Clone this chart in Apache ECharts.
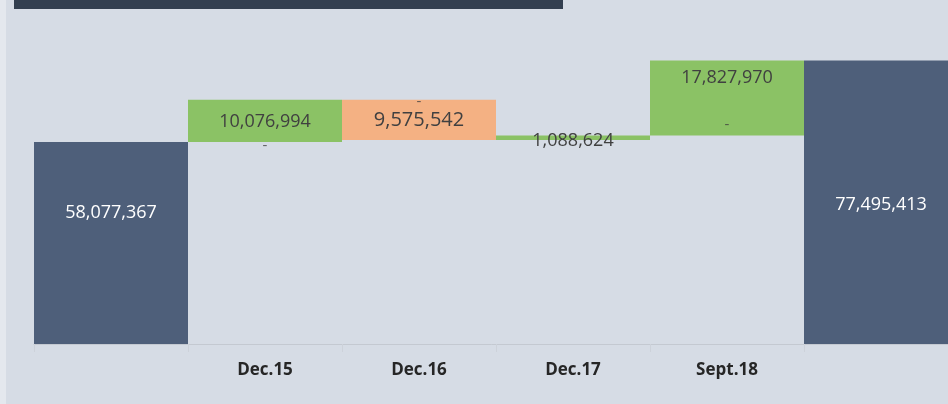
<!DOCTYPE html>
<html>
<head>
<meta charset="utf-8">
<script src="https://cdn.jsdelivr.net/npm/echarts@6/dist/echarts.min.js"></script>
<style>
  html, body { margin: 0; padding: 0; background: #d6dce5; }
  #main { width: 948px; height: 404px; }
</style>
</head>
<body>
<div id="main"></div>
<script>
// categories (first and last columns are the start / end totals)
var categories = ['', 'Dec.15', 'Dec.16', 'Dec.17', 'Sept.18', ''];
var totalValues = [58077367, null, null, null, null, 77495413];
var increaseValues = [null, 10076994, null, 1088624, 17827970, null];
var decreaseValues = [null, null, 9575542, null, null, null];

// invisible base under each floating bar, from the running total
var baseValues = [];
var topValues = [];
var running = 0;
for (var i = 0; i < categories.length; i++) {
    if (totalValues[i] != null) {
        baseValues.push(0);
        running = totalValues[i];
        topValues.push(running);
    } else if (increaseValues[i] != null) {
        baseValues.push(running);
        running += increaseValues[i];
        topValues.push(running);
    } else {
        topValues.push(running);
        running -= decreaseValues[i];
        baseValues.push(running);
    }
}

// "-" labels Excel shows for the empty series
var dashData = [
    { value: [categories[1], baseValues[1]], label: { offset: [0, 4] } },
    { value: [categories[2], topValues[2]], label: { offset: [0, 2] } },
    { value: [categories[4], baseValues[4]], label: { offset: [0, -11] } }
];

function fmt(v) {
    return v.toLocaleString('en-US');
}

var myChart = echarts.init(document.getElementById('main'));
var labelFont = 'Open Sans';

var option = {
    backgroundColor: '#d6dce5',
    animation: false,
    graphic: [
        { type: 'rect', shape: { x: 0, y: 0, width: 6, height: 404 }, style: { fill: '#e4e8ee' } },
        { type: 'rect', shape: { x: 14, y: 0, width: 549, height: 9 }, style: { fill: '#333f50' } }
    ],
    grid: {
        left: 34,
        top: 50,
        width: 924,
        bottom: 60,
        outerBoundsMode: 'none'
    },
    xAxis: {
        type: 'category',
        data: categories,
        axisLine: { lineStyle: { color: '#c4c9d1', width: 1 } },
        axisTick: { show: true, length: 8, lineStyle: { color: '#cdd2da' } },
        axisLabel: {
            margin: 18,
            color: '#262626',
            fontFamily: labelFont,
            fontWeight: 'bold',
            fontSize: 17
        }
    },
    yAxis: {
        type: 'value',
        min: 10000000,
        max: 80000000,
        show: false,
        splitLine: { show: false }
    },
    series: [
        {
            name: 'base',
            type: 'bar',
            stack: 'w',
            barCategoryGap: '0%',
            itemStyle: { color: 'rgba(0,0,0,0)' },
            data: baseValues
        },
        {
            name: 'total',
            type: 'bar',
            stack: 'w',
            itemStyle: { color: '#4e5f7a' },
            label: {
                show: true,
                position: 'inside',
                color: '#ffffff',
                fontFamily: labelFont,
                fontSize: 18,
                formatter: function (p) { return fmt(p.value); }
            },
            data: totalValues.map(function (v, i) {
                if (v == null) return null;
                return i === 0 ? { value: v, label: { offset: [0, -30] } } : { value: v, label: { offset: [0, 3] } };
            })
        },
        {
            name: 'increase',
            type: 'bar',
            stack: 'w',
            itemStyle: { color: '#8bc265' },
            label: {
                show: true,
                position: 'inside',
                color: '#404040',
                fontFamily: labelFont,
                fontSize: 18,
                formatter: function (p) { return fmt(p.value); }
            },
            data: increaseValues.map(function (v, i) {
                if (v == null) return null;
                if (i === 3) return { value: v, label: { offset: [0, 3] } };
                if (i === 4) return { value: v, label: { position: 'insideTop', distance: 8 } };
                return { value: v, label: { offset: [0, 1] } };
            })
        },
        {
            name: 'decrease',
            type: 'bar',
            stack: 'w',
            itemStyle: { color: '#f4b183' },
            label: {
                show: true,
                position: 'inside',
                color: '#404040',
                fontFamily: labelFont,
                fontSize: 20,
                formatter: function (p) { return fmt(p.value); }
            },
            data: decreaseValues
        },
        {
            name: 'zero',
            type: 'scatter',
            symbolSize: 0,
            silent: true,
            label: {
                show: true,
                position: 'inside',
                color: '#404040',
                fontFamily: labelFont,
                fontSize: 15,
                formatter: '-'
            },
            data: dashData
        }
    ]
};

myChart.setOption(option, true);
</script>
</body>
</html>
